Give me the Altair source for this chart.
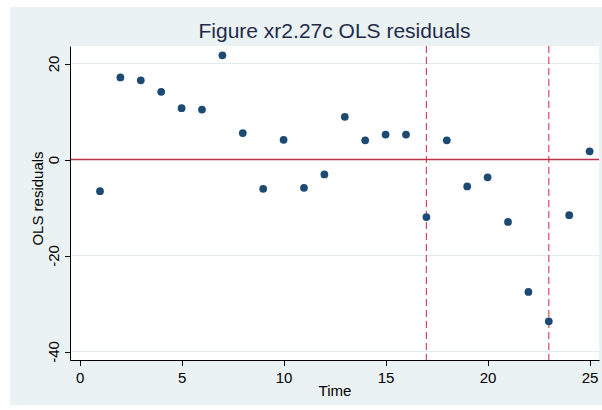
import altair as alt
import pandas as pd

# ---- data ----
time = list(range(1, 26))
residuals = [-6.6, 17.1, 16.5, 14.1, 10.7, 10.4, 21.7, 5.5, -6.1, 4.1,
             -5.9, -3.1, 8.9, 4.0, 5.2, 5.2, -12.0, 4.0, -5.6, -3.7,
             -13.0, -27.6, -33.7, -11.6, 1.7]
break_times = [17, 23]
zero_line = [0]
y_grid = [20, 0, -20, -40]
x_ticks = [0, 5, 10, 15, 20, 25]
y_ticks = [-40, -20, 0, 20]

W, H = 529, 314
BG = "#EAF2F3"
FONT = "Liberation Sans"

xscale = alt.Scale(domain=[-0.47, 25.46], nice=False, zero=False)
yscale = alt.Scale(domain=[-41.77, 23.65], nice=False, zero=False)

xaxis = alt.Axis(title="Time", values=x_ticks, labelExpr="'' + datum.value",
                 grid=False,
                 domainColor="black", domainWidth=1, tickColor="black",
                 tickSize=5.5, labelFontSize=15, labelFont=FONT,
                 labelColor="black", labelPadding=5, labelFlush=False,
                 titleFontSize=15, titleFont=FONT, titleFontWeight="normal",
                 titleColor="black", titleBaseline="alphabetic", titleY=35,
                 zindex=1)
yaxis = alt.Axis(title="OLS residuals", values=y_ticks,
                 labelExpr="'' + datum.value", grid=False,
                 domainColor="black", domainWidth=1, tickColor="black",
                 tickSize=5.5, labelFontSize=15, labelFont=FONT,
                 labelColor="black", labelAngle=270, labelAlign="center",
                 labelBaseline="bottom", labelPadding=3, labelFlush=False,
                 titleFontSize=15, titleFont=FONT, titleFontWeight="normal",
                 titleColor="black", titleAngle=270, titleAlign="center",
                 titleBaseline="alphabetic", titleX=-27.3, titleY=152,
                 zindex=1)

one = pd.DataFrame({"a": [0]})
df = pd.DataFrame({"Time": time, "resid": residuals})

bg = alt.Chart(one).mark_rect(color=BG).encode(
    x=alt.value(-60), x2=alt.value(532), y=alt.value(-39), y2=alt.value(359))
plotbg = alt.Chart(one).mark_rect(color="white").encode(
    x=alt.value(0), x2=alt.value(W), y=alt.value(0), y2=alt.value(H))

grid = alt.Chart(pd.DataFrame({"v": y_grid})).mark_rule(
    color="#E2ECEE", strokeWidth=1).encode(
    y=alt.Y("v:Q", scale=yscale, axis=yaxis))

vlines = alt.Chart(pd.DataFrame({"b": break_times})).mark_rule(
    color="#D6485E", strokeDash=[7, 4], strokeWidth=1.2).encode(
    x=alt.X("b:Q", scale=xscale, axis=xaxis))

zline = alt.Chart(pd.DataFrame({"z": zero_line})).mark_rule(
    color="#B8324A", strokeWidth=1.3).encode(
    y=alt.Y("z:Q", scale=yscale, axis=yaxis))

points = alt.Chart(df).mark_circle(size=60, color="#1D4A72", opacity=1).encode(
    x=alt.X("Time:Q", scale=xscale, axis=xaxis),
    y=alt.Y("resid:Q", scale=yscale, axis=yaxis))

chart = alt.layer(bg, plotbg, grid, vlines, zline, points).properties(
    width=W, height=H,
    title=alt.TitleParams("Figure xr2.27c OLS residuals", fontSize=21,
                          font=FONT, fontWeight="normal", color="#232B4A",
                          anchor="middle", baseline="alphabetic", offset=6,
                          dy=58),
    autosize=alt.AutoSizeParams(type="none"),
    padding={"left": 70, "top": 46, "right": 3, "bottom": 50},
).configure(background="white").configure_view(stroke=None)

chart.save("out.html", embed_options={"renderer": "svg", "actions": False})
